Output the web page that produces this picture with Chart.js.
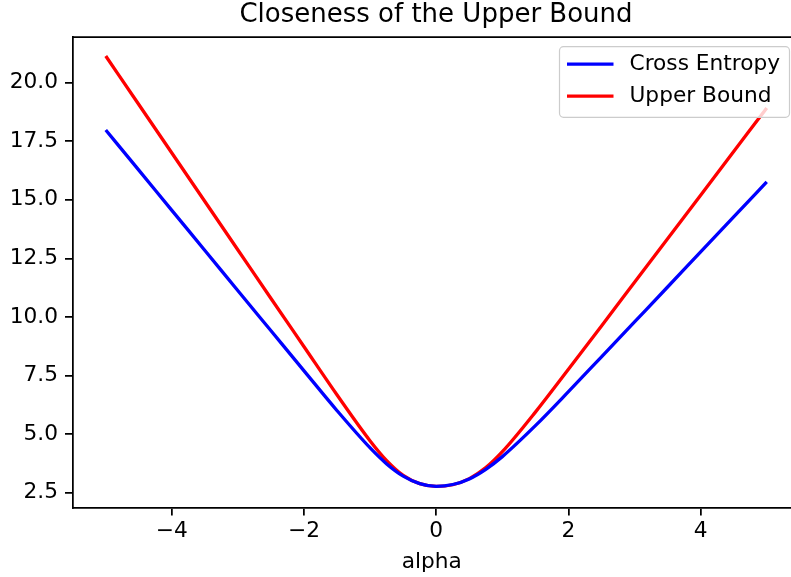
<!DOCTYPE html>
<html>
<head>
<meta charset="utf-8">
<script src="https://cdn.jsdelivr.net/npm/chart.js@4"></script>
<style>
  html, body { margin: 0; padding: 0; background: #fff; }
  #wrap { width: 791px; height: 577px; }
</style>
</head>
<body>
<div id="wrap"><canvas id="closenessChart" width="791" height="577"></canvas></div>
<script>
const chartTitle = 'Closeness of the Upper Bound';
const xLabel = 'alpha';
const seriesNames = ['Cross Entropy', 'Upper Bound'];

const alpha = [-5, -4.5, -4, -3.5, -3, -2.5, -2, -1.5, -1, -0.75, -0.5, -0.25, 0,
               0.25, 0.5, 0.75, 1, 1.5, 2, 2.5, 3, 3.5, 4, 4.5, 5];
const crossEntropy = [17.98, 16.27, 14.55, 12.84, 11.12, 9.41, 7.70, 6.00, 4.41, 3.73, 3.21, 2.89, 2.77,
                      2.85, 3.09, 3.50, 4.04, 5.36, 6.81, 8.30, 9.79, 11.28, 12.78, 14.27, 15.77];
const upperBound = [21.14, 19.07, 17.00, 14.93, 12.86, 10.79, 8.73, 6.67, 4.71, 3.87, 3.24, 2.89, 2.77,
                    2.84, 3.10, 3.57, 4.25, 5.94, 7.77, 9.62, 11.48, 13.34, 15.20, 17.06, 18.92];

const xTicks = [-4, -2, 0, 2, 4];
const yTicks = [2.5, 5.0, 7.5, 10.0, 12.5, 15.0, 17.5, 20.0];

const FONT = '"DejaVu Sans", sans-serif';
const FONT_SIZE = 21.7;

const toPoints = ys => alpha.map((x, i) => ({ x: x, y: ys[i] }));

// titre, bord du haut et légende dessinés à la main (façon matplotlib)
const decorPlugin = {
    id: 'decor',
    afterDraw(chart) {
        const c = chart.ctx;
        const area = chart.chartArea;
        c.save();

        // bord du haut
        c.strokeStyle = '#000';
        c.lineWidth = 1.75;
        c.beginPath();
        c.moveTo(area.left, area.top);
        c.lineTo(area.right, area.top);
        c.stroke();

        // titre centré sur les axes
        c.fillStyle = '#000';
        c.font = '26px ' + FONT;
        c.textAlign = 'center';
        c.textBaseline = 'middle';
        c.fillText(chartTitle, 436, 15);

        // légende en haut à droite
        const bx = area.right - 231.5, by = area.top + 9.7, bw = 230, bh = 70.6, r = 4;
        c.beginPath();
        c.moveTo(bx + r, by);
        c.arcTo(bx + bw, by, bx + bw, by + bh, r);
        c.arcTo(bx + bw, by + bh, bx, by + bh, r);
        c.arcTo(bx, by + bh, bx, by, r);
        c.arcTo(bx, by, bx + bw, by, r);
        c.closePath();
        c.fillStyle = 'rgba(255,255,255,0.8)';
        c.fill();
        c.strokeStyle = '#cccccc';
        c.lineWidth = 1.2;
        c.stroke();

        c.font = FONT_SIZE + 'px ' + FONT;
        c.textAlign = 'left';
        chart.data.datasets.forEach((ds, i) => {
            const ly = by + 17.5 + i * 32;
            c.strokeStyle = ds.borderColor;
            c.lineWidth = 3.3;
            c.beginPath();
            c.moveTo(bx + 7.5, ly);
            c.lineTo(bx + 54, ly);
            c.stroke();
            c.fillStyle = '#000';
            c.fillText(ds.label, bx + 70, ly);
        });
        c.restore();
    }
};

const ctx = document.getElementById('closenessChart').getContext('2d');
const chart = new Chart(ctx, {
    type: 'line',
    data: {
        datasets: [
            {
                label: seriesNames[0],
                data: toPoints(crossEntropy),
                borderColor: '#0000ff',
                borderWidth: 3.3,
                pointRadius: 0,
                cubicInterpolationMode: 'monotone',
                fill: false
            },
            {
                label: seriesNames[1],
                data: toPoints(upperBound),
                borderColor: '#ff0000',
                borderWidth: 3.3,
                pointRadius: 0,
                cubicInterpolationMode: 'monotone',
                fill: false
            }
        ]
    },
    options: {
        responsive: false,
        animation: false,
        events: [],
        layout: { padding: { top: 37, right: 0, left: 0, bottom: 0 } },
        plugins: {
            legend: { display: false },
            title: { display: false },
            tooltip: { enabled: false }
        },
        scales: {
            x: {
                type: 'linear',
                min: -5.5,
                max: 5.367,
                afterBuildTicks: s => { s.ticks = xTicks.map(v => ({ value: v })); },
                afterFit: s => { s.height = 69.3; },
                border: { display: true, color: '#000', width: 1.75 },
                grid: { display: true, drawOnChartArea: false, drawTicks: true, tickLength: 7.7, color: '#000', lineWidth: 1.75 },
                ticks: {
                    color: '#000',
                    font: { family: FONT, size: FONT_SIZE },
                    padding: 3,
                    maxRotation: 0,
                    autoSkip: false,
                    callback: v => (v < 0 ? '\u2212' + Math.abs(v) : String(v))
                },
                title: {
                    display: true,
                    text: xLabel,
                    color: '#000',
                    font: { family: FONT, size: FONT_SIZE },
                    padding: { top: 0, bottom: 2 }
                }
            },
            y: {
                type: 'linear',
                min: 1.86,
                max: 21.95,
                afterBuildTicks: s => { s.ticks = yTicks.map(v => ({ value: v })); },
                afterFit: s => { s.width = 72.7; },
                border: { display: true, color: '#000', width: 1.75 },
                grid: { display: true, drawOnChartArea: false, drawTicks: true, tickLength: 7.7, color: '#000', lineWidth: 1.75 },
                ticks: {
                    color: '#000',
                    font: { family: FONT, size: FONT_SIZE },
                    padding: 7,
                    autoSkip: false,
                    callback: v => v.toFixed(1)
                }
            }
        }
    },
    plugins: [decorPlugin]
});
</script>
</body>
</html>
